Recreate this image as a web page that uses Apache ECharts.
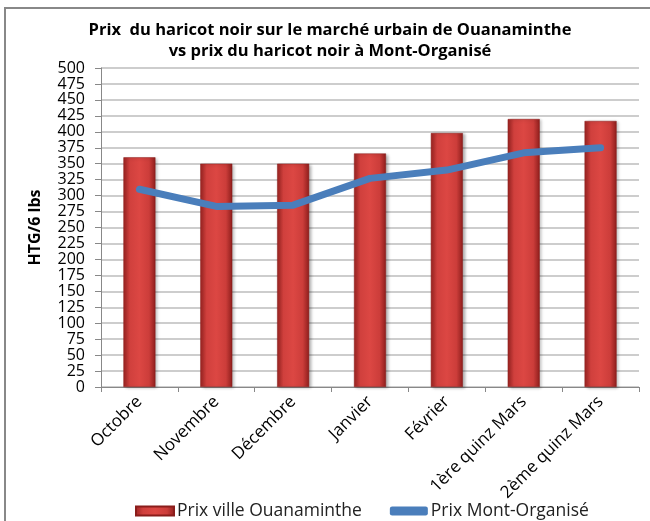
<!DOCTYPE html>
<html>
<head>
<meta charset="utf-8">
<script src="https://cdn.jsdelivr.net/npm/echarts@6/dist/echarts.min.js"></script>
<style>
  html, body { margin: 0; padding: 0; background: #fff; }
  #chart { width: 650px; height: 521px; }
</style>
</head>
<body>
<div id="chart"></div>
<script>
const categories = ['Octobre', 'Novembre', 'Décembre', 'Janvier', 'Février', '1ère quinz Mars', '2ème quinz Mars'];
const prixOuanaminthe = [360, 350, 350, 366, 398, 420, 417];
const prixMontOrganise = [310, 283, 285, 327, 340, 367, 375];

const chart = echarts.init(document.getElementById('chart'));

// barres "cylindre" rouges comme dans Excel
const barColor = new echarts.graphic.LinearGradient(0, 0, 1, 0, [
    { offset: 0, color: '#9c2422' },
    { offset: 0.2, color: '#d0403d' },
    { offset: 0.5, color: '#dc4743' },
    { offset: 0.8, color: '#cc3d3a' },
    { offset: 1, color: '#8e1e1c' }
]);

const option = {
    animation: false,
    textStyle: { fontFamily: 'Open Sans' },
    title: {
        text: 'Prix  du haricot noir sur le marché urbain de Ouanaminthe\nvs prix du haricot noir à Mont-Organisé',
        left: 325,
        top: 15,
        textAlign: 'center',
        textStyle: { fontSize: 16.5, fontWeight: 'bold', color: '#000', lineHeight: 21, fontFamily: 'Open Sans' }
    },
    graphic: [
        { type: 'polyline', shape: { points: [[5, 530], [5, 8], [660, 8]] }, style: { stroke: '#888', lineWidth: 2, fill: null } }
    ],
    legend: {
        top: 497,
        left: 130,
        itemGap: 28,
        itemWidth: 38,
        itemHeight: 9,
        textStyle: { fontSize: 17.5, color: '#222', fontFamily: 'Open Sans', padding: [0, 0, 0, -2] },
        data: [
            { name: 'Prix ville Ouanaminthe', icon: 'rect', itemStyle: { color: barColor } },
            { name: 'Prix Mont-Organisé', icon: 'roundRect', itemStyle: { color: '#4a7ebb' } }
        ]
    },
    grid: { left: 101, right: 11, top: 68, bottom: 134 },
    xAxis: {
        type: 'category',
        data: categories,
        axisLine: { lineStyle: { color: '#888' } },
        axisTick: { show: true, alignWithLabel: false, lineStyle: { color: '#888' } },
        axisLabel: { rotate: 45, interval: 0, fontSize: 17, color: '#000', margin: 12 }
    },
    yAxis: {
        type: 'value',
        min: 0,
        max: 500,
        interval: 25,
        name: 'HTG/6 lbs',
        nameLocation: 'middle',
        nameGap: 58,
        nameTextStyle: { fontSize: 16, fontWeight: 'bold', color: '#000' },
        axisLine: { show: true, lineStyle: { color: '#888' } },
        axisTick: { show: true, length: 6, lineStyle: { color: '#888' } },
        axisLabel: { fontSize: 16, color: '#000', margin: 16, lineHeight: 15 },
        splitLine: { lineStyle: { color: '#bdbdbd', width: 1.5 } }
    },
    series: [
        {
            name: 'Prix ville Ouanaminthe',
            type: 'bar',
            data: prixOuanaminthe,
            barWidth: 32,
            itemStyle: {
                color: barColor,
                borderColor: '#8a1d1b',
                borderWidth: 0.5,
                shadowColor: 'rgba(0,0,0,0.3)',
                shadowBlur: 3,
                shadowOffsetX: 2,
                shadowOffsetY: 1
            }
        },
        {
            name: 'Prix Mont-Organisé',
            type: 'line',
            data: prixMontOrganise,
            symbol: 'none',
            lineStyle: { color: '#4a7ebb', width: 7, cap: 'round', join: 'round' },
            itemStyle: { color: '#4a7ebb' }
        }
    ]
};

chart.setOption(option);
</script>
</body>
</html>
